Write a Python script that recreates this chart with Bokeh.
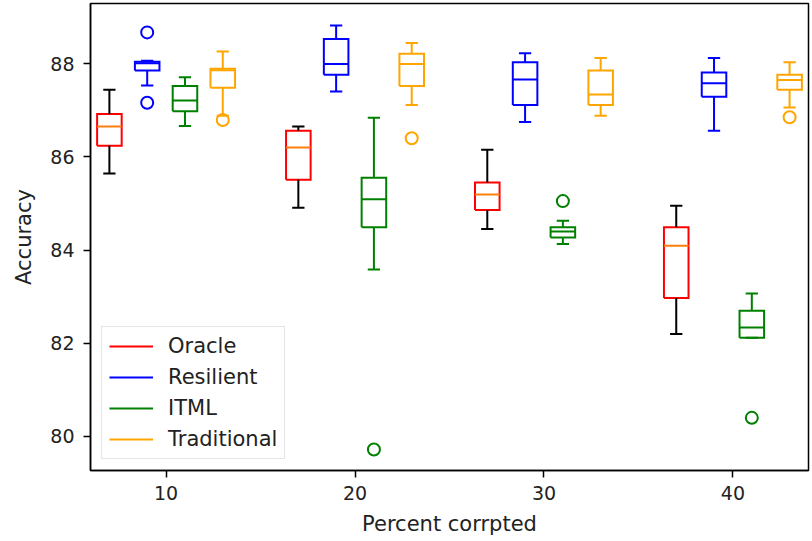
from bokeh.plotting import figure
from bokeh.models import Range1d, FixedTicker, Legend, LegendItem
from bokeh.embed import file_html
from bokeh.resources import INLINE

# ---------------- data ----------------
percent = [10, 20, 30, 40]
series_names = ["Oracle", "Resilient", "ITML", "Traditional"]
y_ticks = [80, 82, 84, 86, 88]

oracle_low = [85.64, 84.91, 84.45, 82.20]
oracle_q1 = [86.24, 85.51, 84.86, 82.97]
oracle_med = [86.65, 86.20, 85.19, 84.09]
oracle_q3 = [86.92, 86.56, 85.45, 84.49]
oracle_high = [87.44, 86.65, 86.15, 84.95]
oracle_out = [[], [], [], []]

resilient_low = [87.53, 87.40, 86.75, 86.56]
resilient_q1 = [87.85, 87.76, 87.11, 87.29]
resilient_med = [88.01, 87.99, 87.66, 87.58]
resilient_q3 = [88.04, 88.53, 88.03, 87.81]
resilient_high = [88.06, 88.82, 88.22, 88.12]
resilient_out = [[88.67, 87.16], [], [], []]

itml_low = [86.66, 83.58, 84.13, 82.12]
itml_q1 = [86.98, 84.49, 84.27, 82.12]
itml_med = [87.21, 85.09, 84.40, 82.34]
itml_q3 = [87.52, 85.55, 84.49, 82.70]
itml_high = [87.71, 86.84, 84.63, 83.07]
itml_out = [[], [79.72], [85.05], [80.40]]

traditional_low = [86.88, 87.11, 86.88, 87.06]
traditional_q1 = [87.48, 87.52, 87.11, 87.44]
traditional_med = [87.86, 87.99, 87.34, 87.65]
traditional_q3 = [87.89, 88.21, 87.85, 87.76]
traditional_high = [88.26, 88.44, 88.12, 88.03]
traditional_out = [[86.79], [86.40], [], [86.85]]

# ---------------- styling ----------------
box_colors = ["#ff0000", "#0000ff", "#008000", "#ffa500"]
whisker_colors = ["#000000", "#0000ff", "#008000", "#ffa500"]
median_colors = ["#ff7f0e", "#0000ff", "#008000", "#ffa500"]
offsets = [-3, -1, 1, 3]
box_w = 1.3
cap_w = 0.65
LW = 2
FONT = "DejaVu Sans"

stats = [
    (oracle_low, oracle_q1, oracle_med, oracle_q3, oracle_high, oracle_out),
    (resilient_low, resilient_q1, resilient_med, resilient_q3, resilient_high, resilient_out),
    (itml_low, itml_q1, itml_med, itml_q3, itml_high, itml_out),
    (traditional_low, traditional_q1, traditional_med, traditional_q3, traditional_high, traditional_out),
]

p = figure(width=812, height=541, output_backend="svg", toolbar_location=None,
           x_range=Range1d(6, 44), y_range=Range1d(79.27, 89.29),
           min_border_left=90, min_border_right=4, min_border_top=3, min_border_bottom=71,
           background_fill_color="white", border_fill_color="white")

p.xgrid.visible = False
p.ygrid.visible = False
p.outline_line_color = "black"
p.outline_line_width = 1.5
p.outline_line_alpha = 1.0

legend_items = []
for i, name in enumerate(series_names):
    low, q1, med, q3, high, outs = stats[i]
    xs = [c + offsets[i] for c in percent]
    # box outlines as closed polylines (legend glyph is then a line)
    bx, by = [], []
    for x, a, b in zip(xs, q1, q3):
        l, r = x - box_w / 2, x + box_w / 2
        bx.append([l, r, r, l, l])
        by.append([a, a, b, b, a])
    box_r = p.multi_line(xs=bx, ys=by, line_color=box_colors[i], line_width=LW,
                         line_join="miter")
    # whiskers
    p.segment(x0=xs, y0=q1, x1=xs, y1=low, line_color=whisker_colors[i], line_width=LW)
    p.segment(x0=xs, y0=q3, x1=xs, y1=high, line_color=whisker_colors[i], line_width=LW)
    # caps
    p.segment(x0=[x - cap_w / 2 for x in xs], y0=low, x1=[x + cap_w / 2 for x in xs], y1=low,
              line_color=whisker_colors[i], line_width=LW)
    p.segment(x0=[x - cap_w / 2 for x in xs], y0=high, x1=[x + cap_w / 2 for x in xs], y1=high,
              line_color=whisker_colors[i], line_width=LW)
    # medians
    p.segment(x0=[x - box_w / 2 for x in xs], y0=med, x1=[x + box_w / 2 for x in xs], y1=med,
              line_color=median_colors[i], line_width=LW)
    # fliers
    fx, fy = [], []
    for x, o in zip(xs, outs):
        for v in o:
            fx.append(x)
            fy.append(v)
    if fx:
        p.scatter(x=fx, y=fy, marker="circle", size=12, fill_color=None,
                  line_color=box_colors[i], line_width=LW)
    legend_items.append(LegendItem(label=name, renderers=[box_r]))

legend = Legend(items=legend_items, location="bottom_left", margin=11,
                border_line_color="#cccccc", border_line_width=1.5,
                background_fill_color="white", background_fill_alpha=0.8,
                label_text_font=FONT, label_text_font_size="21px", label_text_color="#222222",
                glyph_width=44, glyph_height=22, label_height=22, label_standoff=15,
                spacing=7, padding=7)
p.add_layout(legend)

p.xaxis.ticker = FixedTicker(ticks=percent)
p.yaxis.ticker = FixedTicker(ticks=y_ticks)
p.xaxis.axis_label = "Percent corrpted"
p.yaxis.axis_label = "Accuracy"
for ax in (p.xaxis, p.yaxis):
    ax.axis_label_text_font = FONT
    ax.axis_label_text_font_style = "normal"
    ax.axis_label_text_font_size = "21px"
    ax.axis_label_text_color = "#222222"
    ax.major_label_text_font = FONT
    ax.major_label_text_font_size = "19px"
    ax.major_label_text_color = "#222222"
    ax.major_tick_in = 0
    ax.major_tick_out = 7
    ax.major_tick_line_width = 1.5
    ax.minor_tick_line_color = None
    ax.axis_line_color = "black"
    ax.axis_line_width = 1.5
p.xaxis.major_label_standoff = 8
p.yaxis.major_label_standoff = 9
p.xaxis.axis_label_standoff = 9
p.yaxis.axis_label_standoff = 11

open("out.html", "w").write(file_html(p, INLINE))
